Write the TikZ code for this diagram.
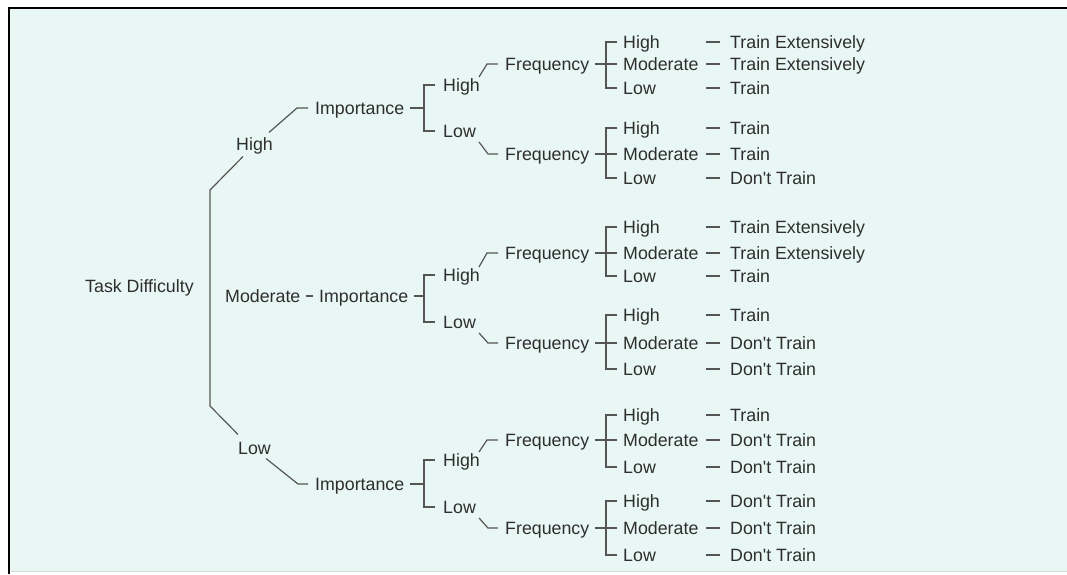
\documentclass[tikz,border=0pt]{standalone}
\usepackage{fontspec}
\setmainfont{Liberation Sans}
\usetikzlibrary{calc}
\definecolor{bg}{HTML}{E8F7F4}
\definecolor{txt}{HTML}{2E2E2E}
\definecolor{lncol}{HTML}{555555}
\definecolor{framebot}{HTML}{D3DCDA}
\tikzset{
  lbl/.style={font=\fontsize{17.8pt}{20pt}\selectfont, text=txt, inner sep=0pt,
              text height=12.7pt, text depth=0pt, anchor=west},
  ln/.style={draw=lncol, line width=1.2pt},
}
% #1 prefix, #2 frequency node, #3 top y, #4 bottom y, #5-#7 results
\newcommand{\leafgroup}[7]{%
  \node[lbl] (#1a) at (623,#3) {High};
  \node[lbl] (#1b) at ($(#2.west)+(118,0)$) {Moderate};
  \node[lbl] (#1c) at (623,#4) {Low};
  \node[lbl] (#1x) at (730,#3) {#5};
  \node[lbl] (#1y) at ($(#1b.west)+(107,0)$) {#6};
  \node[lbl] (#1z) at (730,#4) {#7};
  \draw[ln] ($(#1a.west)+(-6,0)$) -- ($(#1a.west)+(-17,0)$) -- ($(#1c.west)+(-17,0)$) -- ($(#1c.west)+(-6,0)$);
  \draw[ln] ($(#2.east)+(5,0)$) -- ($(#1b.west)+(-6,0)$);
  \draw[ln] ($(#1x.west)+(-24,0)$) -- ($(#1x.west)+(-10,0)$);
  \draw[ln] ($(#1y.west)+(-24,0)$) -- ($(#1y.west)+(-10,0)$);
  \draw[ln] ($(#1z.west)+(-24,0)$) -- ($(#1z.west)+(-10,0)$);
}
\newcommand{\TE}{Train Extensively}
\newcommand{\TR}{Train}
\newcommand{\DT}{Don\textquotesingle t Train}
\begin{document}
\begin{tikzpicture}[x=1pt,y=-1pt]
\useasboundingbox (0,0) rectangle (1067,574);
% frame
\fill[bg] (9,8) rectangle (1067,571);
\draw[framebot, line width=1pt] (9,571.5) -- (1067,571.5);
\draw[black, line width=2pt] (9,574) -- (9,7.8) -- (1067,7.8);

% root
\node[lbl] (root) at (85,286) {Task Difficulty};
\coordinate (tt) at (210,190);
\coordinate (tb) at (210,406);

% first level
\node[lbl] (dH) at (236,144) {High};
\node[lbl] (dM) at (225,296) {Moderate};
\node[lbl] (dL) at (238,448) {Low};
\node[lbl] (I1) at (315,108) {Importance};
\node[lbl] (I2) at (319,296) {Importance};
\node[lbl] (I3) at (315,484) {Importance};

\draw[ln] ($(dL.north west)+(0,-7)$) -- (tb) -- (tt) -- ($(dH.south west)+(7,6)$);
\draw[ln] ($(dH.north east)+(-4,-5)$) -- ($(I1.west)+(-18,0)$) -- ($(I1.west)+(-7,0)$);
\draw[ln] ($(dM.east)+(5,0)$) -- ($(I2.west)+(-6,0)$);
\draw[ln] ($(dL.south east)+(-5,4)$) -- ($(I3.west)+(-17,0)$) -- ($(I3.west)+(-7,0)$);

% importance level
\foreach \g/\iy/\hy/\ly/\fh/\fl in {1/108/85/131/64/154,2/296/275/322/253/343,3/484/460/507/440/528}{
  \coordinate (B\g) at (424,\iy);
  \node[lbl] (H\g) at (443,\hy) {High};
  \node[lbl] (L\g) at (443,\ly) {Low};
  \node[lbl] (FH\g) at (505,\fh) {Frequency};
  \node[lbl] (FL\g) at (505,\fl) {Frequency};
  \draw[ln] ($(I\g.east)+(6,0)$) -- (B\g);
  \draw[ln] ($(H\g.west)+(-8,0)$) -- ($(H\g.west)+(-19,0)$) -- ($(L\g.west)+(-19,0)$) -- ($(L\g.west)+(-8,0)$);
  \draw[ln] ($(H\g.east)+(-1,-8)$) -- ($(FH\g.west)+(-18,0)$) -- ($(FH\g.west)+(-7,0)$);
  \draw[ln] ($(L\g.east)+(3,11)$) -- ($(FL\g.west)+(-17,0)$) -- ($(FL\g.west)+(-7,0)$);
}

% leaves
\leafgroup{aH}{FH1}{42}{88}{\TE}{\TE}{\TR}
\leafgroup{aL}{FL1}{128}{178}{\TR}{\TR}{\DT}
\leafgroup{bH}{FH2}{227}{276}{\TE}{\TE}{\TR}
\leafgroup{bL}{FL2}{315}{369}{\TR}{\DT}{\DT}
\leafgroup{cH}{FH3}{415}{467}{\TR}{\DT}{\DT}
\leafgroup{cL}{FL3}{501}{555}{\DT}{\DT}{\DT}
\end{tikzpicture}
\end{document}
